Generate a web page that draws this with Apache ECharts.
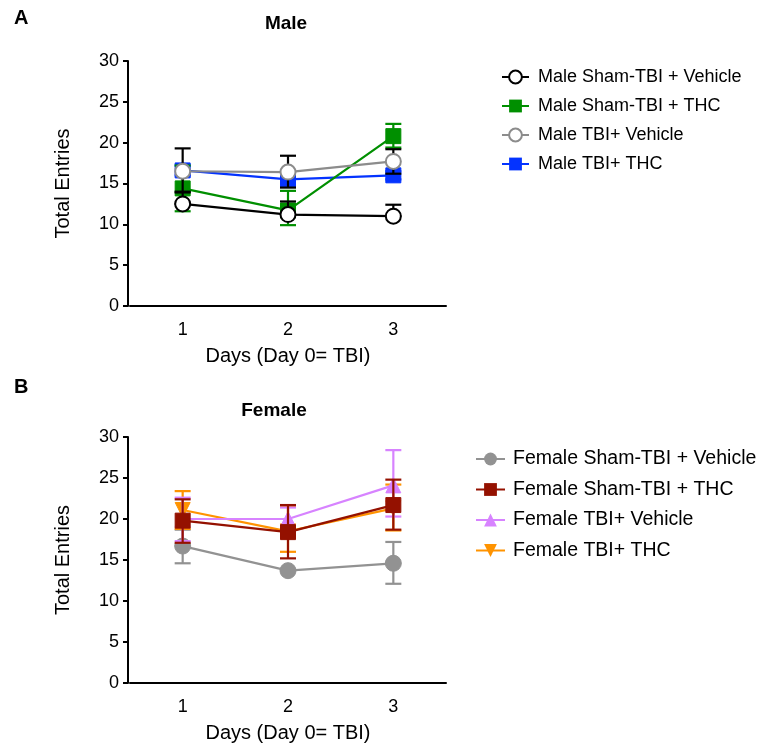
<!DOCTYPE html>
<html>
<head>
<meta charset="utf-8">
<script src="https://cdn.jsdelivr.net/npm/echarts@6/dist/echarts.min.js"></script>
<style>
  html, body { margin: 0; padding: 0; background: #fff; }
  #chart { width: 763px; height: 749px; }
</style>
</head>
<body>
<div id="chart"></div>
<script>
const days = ['1', '2', '3'];
const yTicks = [0, 5, 10, 15, 20, 25, 30];

// Male
const maleShamVeh = [12.5, 11.2, 11.0];
const maleShamVehLo = [12.5, 11.2, 11.0];
const maleShamVehHi = [13.9, 12.8, 12.4];
const maleShamThc = [14.4, 11.7, 20.8];
const maleShamThcLo = [11.6, 9.9, 19.4];
const maleShamThcHi = [17.2, 14.1, 22.3];
const maleTbiVeh = [16.5, 16.4, 17.7];
const maleTbiVehLo = [14.0, 14.5, 16.2];
const maleTbiVehHi = [19.3, 18.4, 19.2];
const maleTbiThc = [16.6, 15.5, 16.0];
const maleTbiThcLo = [16.0, 15.0, 15.5];
const maleTbiThcHi = [17.2, 16.0, 16.5];

// Female
const femShamVeh = [16.7, 13.7, 14.6];
const femShamVehLo = [14.6, 13.7, 12.1];
const femShamVehHi = [18.7, 13.7, 17.2];
const femShamThc = [19.8, 18.4, 21.7];
const femShamThcLo = [17.1, 15.2, 18.7];
const femShamThcHi = [22.4, 21.7, 24.8];
const femTbiVeh = [20.0, 20.0, 24.1];
const femTbiVehLo = [17.3, 18.6, 20.3];
const femTbiVehHi = [22.6, 21.4, 28.4];
const femTbiThc = [21.1, 18.5, 21.3];
const femTbiThcLo = [18.8, 16.0, 18.6];
const femTbiThcHi = [23.4, 21.5, 24.2];

const FONT = '"Liberation Sans", Arial, Helvetica, sans-serif';

const chart = echarts.init(document.getElementById('chart'));

function errBars(name, lo, hi, color, idx, z) {
    return {
        type: 'custom',
        name: name + ' err',
        xAxisIndex: idx,
        yAxisIndex: idx,
        z: z,
        silent: true,
        clip: false,
        encode: {x: 0, y: [1, 2]},
        data: lo.map((v, i) => [i, v, hi[i]]),
        renderItem: (params, api) => {
            const top = api.coord([api.value(0), api.value(2)]);
            const bot = api.coord([api.value(0), api.value(1)]);
            const w = 8;
            const style = {stroke: color, lineWidth: 2.2};
            return {
                type: 'group',
                children: [
                    {type: 'line', shape: {x1: top[0], y1: top[1], x2: bot[0], y2: bot[1]}, style},
                    {type: 'line', shape: {x1: top[0] - w, y1: top[1], x2: top[0] + w, y2: top[1]}, style},
                    {type: 'line', shape: {x1: bot[0] - w, y1: bot[1], x2: bot[0] + w, y2: bot[1]}, style},
                ],
            };
        },
    };
}

function lineSeries(name, data, color, symbol, idx, z, extra) {
    return Object.assign({
        type: 'line',
        name: name,
        xAxisIndex: idx,
        yAxisIndex: idx,
        data: data,
        z: z,
        symbol: symbol,
        symbolSize: 15,
        showAllSymbol: true,
        color: color,
        lineStyle: {color: color, width: 2.2},
        itemStyle: {color: color, borderColor: color},
        emphasis: {disabled: true},
    }, extra || {});
}

function xAxis(idx) {
    return {
        type: 'category',
        gridIndex: idx,
        data: days,
        boundaryGap: true,
        name: 'Days (Day 0= TBI)',
        nameLocation: 'middle',
        nameGap: 40,
        nameTextStyle: {fontSize: 20, color: '#000', fontFamily: FONT},
        axisLine: {lineStyle: {color: '#000', width: 2}},
        axisTick: {alignWithLabel: true, length: 6, lineStyle: {width: 2, color: '#000'}},
        axisLabel: {fontSize: 18, color: '#000', fontFamily: FONT, margin: 15},
        splitLine: {show: false},
    };
}

function yAxis(idx) {
    return {
        type: 'value',
        gridIndex: idx,
        min: yTicks[0],
        max: yTicks[yTicks.length - 1],
        interval: yTicks[1] - yTicks[0],
        offset: 2,
        name: 'Total Entries',
        nameLocation: 'middle',
        nameGap: 55,
        nameTextStyle: {fontSize: 20, color: '#000', fontFamily: FONT},
        axisLine: {show: true, lineStyle: {color: '#000', width: 2}},
        axisTick: {show: true, length: 5, lineStyle: {width: 2, color: '#000'}},
        axisLabel: {fontSize: 18, color: '#000', fontFamily: FONT, margin: 9},
        splitLine: {show: false},
    };
}

const option = {
    animation: false,
    backgroundColor: '#fff',
    textStyle: {fontFamily: FONT},
    title: [
        {text: 'A', left: 9, top: 3, textStyle: {fontSize: 20, fontWeight: 'bold', color: '#000', fontFamily: FONT}},
        {text: 'Male', left: 281, top: 9, textAlign: 'center', textStyle: {fontSize: 19, fontWeight: 'bold', color: '#000', fontFamily: FONT}},
        {text: 'B', left: 9, top: 372, textStyle: {fontSize: 20, fontWeight: 'bold', color: '#000', fontFamily: FONT}},
        {text: 'Female', left: 269, top: 396, textAlign: 'center', textStyle: {fontSize: 19, fontWeight: 'bold', color: '#000', fontFamily: FONT}},
    ],
    legend: [
        {
            orient: 'vertical', left: 496, top: 63,
            itemWidth: 27, itemHeight: 16, itemGap: 11,
            textStyle: {fontSize: 18, color: '#000', fontFamily: FONT, padding: [0, 0, 0, 4]},
            data: ['Male Sham-TBI + Vehicle', 'Male Sham-TBI + THC', 'Male TBI+ Vehicle', 'Male TBI+ THC'],
        },
        {
            orient: 'vertical', left: 470, top: 444,
            itemWidth: 29, itemHeight: 16, itemGap: 10.5,
            textStyle: {fontSize: 19.5, color: '#000', fontFamily: FONT, padding: [0, 0, 0, 3]},
            data: ['Female Sham-TBI + Vehicle', 'Female Sham-TBI + THC', 'Female TBI+ Vehicle', 'Female TBI+ THC'],
        },
    ],
    grid: [
        {left: 130, top: 61, width: 316, height: 245},
        {left: 130, top: 437, width: 316, height: 246},
    ],
    xAxis: [xAxis(0), xAxis(1)],
    yAxis: [yAxis(0), yAxis(1)],
    series: [
        // male
        errBars('m4', maleTbiThcLo, maleTbiThcHi, '#0433ff', 0, 1),
        lineSeries('Male TBI+ THC', maleTbiThc, '#0433ff', 'rect', 0, 2),
        errBars('m2', maleShamThcLo, maleShamThcHi, '#008f00', 0, 3),
        lineSeries('Male Sham-TBI + THC', maleShamThc, '#008f00', 'rect', 0, 4),
        errBars('m3', maleTbiVehLo, maleTbiVehHi, '#000000', 0, 5),
        lineSeries('Male TBI+ Vehicle', maleTbiVeh, '#8c8c8c', 'emptyCircle', 0, 6, {itemStyle: {color: '#8c8c8c', borderWidth: 2.5}}),
        errBars('m1', maleShamVehLo, maleShamVehHi, '#000000', 0, 7),
        lineSeries('Male Sham-TBI + Vehicle', maleShamVeh, '#000000', 'emptyCircle', 0, 8, {itemStyle: {color: '#000000', borderWidth: 2.5}}),
        // female
        errBars('f1', femShamVehLo, femShamVehHi, '#929292', 1, 1),
        lineSeries('Female Sham-TBI + Vehicle', femShamVeh, '#929292', 'circle', 1, 2, {symbolSize: 16}),
        errBars('f4', femTbiThcLo, femTbiThcHi, '#ff9300', 1, 3),
        lineSeries('Female TBI+ THC', femTbiThc, '#ff9300', 'triangle', 1, 4, {symbolRotate: 180}),
        errBars('f3', femTbiVehLo, femTbiVehHi, '#d783ff', 1, 5),
        lineSeries('Female TBI+ Vehicle', femTbiVeh, '#d783ff', 'triangle', 1, 6),
        errBars('f2', femShamThcLo, femShamThcHi, '#941100', 1, 7),
        lineSeries('Female Sham-TBI + THC', femShamThc, '#941100', 'rect', 1, 8),
    ],
};

chart.setOption(option);
</script>
</body>
</html>
